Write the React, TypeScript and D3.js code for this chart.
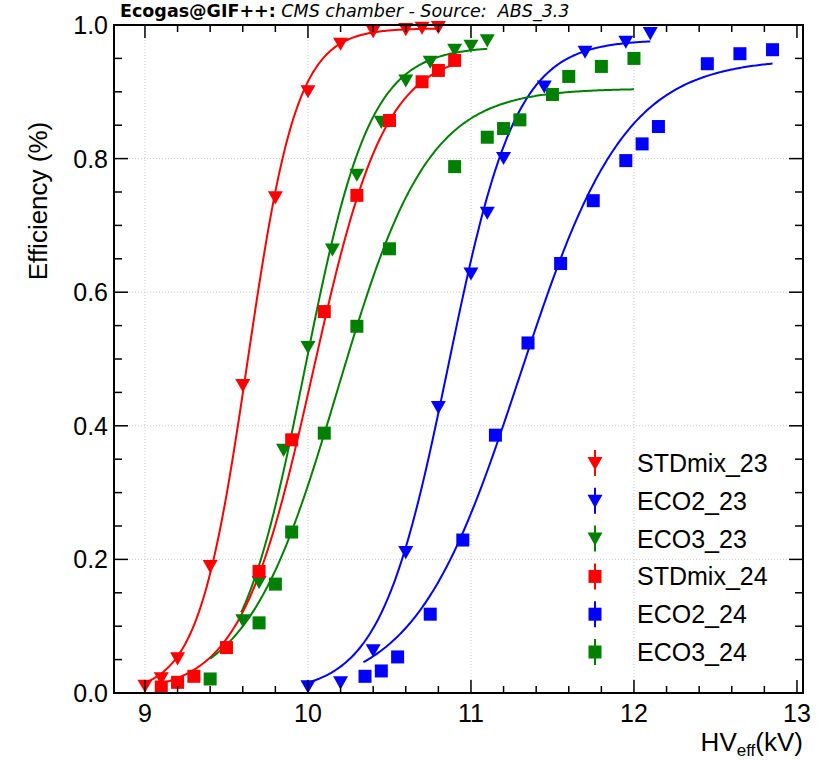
import React from "react";
import * as d3 from "d3";

// Legend / series info
const seriesNames = ["STDmix_23", "ECO2_23", "ECO3_23", "STDmix_24", "ECO2_24", "ECO3_24"];
const seriesColors = ["#ff0000", "#0000ff", "#008000", "#ff0000", "#0000ff", "#008000"];
const seriesMarkers = ["tri", "tri", "tri", "sq", "sq", "sq"];

// Measured points (HV_eff in kV, efficiency)
const stdmix23HV = [9.0, 9.1, 9.2, 9.4, 9.6, 9.8, 10.0, 10.2, 10.4, 10.6, 10.7, 10.8];
const stdmix23Eff = [0.011, 0.022, 0.052, 0.19, 0.461, 0.742, 0.901, 0.972, 0.991, 0.994, 0.996, 0.997];

const eco2_23HV = [10.0, 10.2, 10.4, 10.6, 10.8, 11.0, 11.1, 11.2, 11.45, 11.7, 11.95, 12.1];
const eco2_23Eff = [0.01, 0.016, 0.064, 0.211, 0.428, 0.628, 0.719, 0.801, 0.908, 0.96, 0.975, 0.988];

const eco3_23HV = [9.6, 9.7, 9.85, 10.0, 10.15, 10.3, 10.45, 10.6, 10.75, 10.9, 11.0, 11.1];
const eco3_23Eff = [0.109, 0.166, 0.364, 0.518, 0.664, 0.776, 0.855, 0.917, 0.945, 0.963, 0.969, 0.977];

const stdmix24HV = [9.1, 9.2, 9.3, 9.5, 9.7, 9.9, 10.1, 10.3, 10.5, 10.7, 10.8, 10.9];
const stdmix24Eff = [0.009, 0.016, 0.025, 0.068, 0.182, 0.379, 0.571, 0.745, 0.857, 0.915, 0.932, 0.947];

const eco2_24HV = [10.35, 10.45, 10.55, 10.75, 10.95, 11.15, 11.35, 11.55, 11.75, 11.95, 12.05, 12.15, 12.45, 12.65, 12.85];
const eco2_24Eff = [0.025, 0.033, 0.054, 0.118, 0.229, 0.386, 0.524, 0.643, 0.737, 0.797, 0.822, 0.848, 0.942, 0.957, 0.963];

const eco3_24HV = [9.4, 9.7, 9.8, 9.9, 10.1, 10.3, 10.5, 10.9, 11.1, 11.2, 11.3, 11.5, 11.6, 11.8, 12.0];
const eco3_24Eff = [0.021, 0.105, 0.163, 0.241, 0.389, 0.549, 0.665, 0.788, 0.832, 0.845, 0.858, 0.896, 0.923, 0.938, 0.95];

const allHV = [stdmix23HV, eco2_23HV, eco3_23HV, stdmix24HV, eco2_24HV, eco3_24HV];
const allEff = [stdmix23Eff, eco2_23Eff, eco3_23Eff, stdmix24Eff, eco2_24Eff, eco3_24Eff];

// Sigmoid fit parameters: eff = emax / (1 + exp(-lambda (HV - HV50)))
const fitEmax = [0.995, 0.978, 0.968, 0.96, 0.95, 0.905];
const fitLambda = [6.6, 4.8, 5.0, 4.5, 3.1, 3.6];
const fitHV50 = [9.63, 10.86, 9.98, 10.03, 11.3, 10.18];
const fitFrom = [9.0, 10.0, 9.59, 9.1, 10.34, 9.4];
const fitTo = [10.8, 12.1, 11.1, 10.9, 12.85, 12.0];

const xTicks = [9, 10, 11, 12, 13];
const yTicks = [0, 0.2, 0.4, 0.6, 0.8, 1.0];

const W = 834;
const H = 761;
const plot = { left: 114, right: 803, top: 25, bottom: 693 };

const x = d3.scaleLinear().domain([8.81, 13.037]).range([plot.left, plot.right]);
const y = d3.scaleLinear().domain([0, 1]).range([plot.bottom, plot.top]);

const helv = "'Liberation Sans', Arial, Helvetica, sans-serif";

function Marker({ kind, cx, cy, color }) {
  if (kind === "tri") {
    const s = 7.5;
    return (
      <path
        d={`M${cx - s},${cy - s * 0.8}L${cx + s},${cy - s * 0.8}L${cx},${cy + s * 0.95}Z`}
        fill={color}
      />
    );
  }
  const s = 6.5;
  return <rect x={cx - s} y={cy - s} width={2 * s} height={2 * s} fill={color} />;
}

export default function App() {
  const line = d3
    .line<number[]>()
    .x((d) => x(d[0]))
    .y((d) => y(d[1]));

  const fits = seriesNames.map((_, i) => {
    const pts = d3.range(fitFrom[i], fitTo[i] + 1e-9, 0.01).map((hv) => [
      hv,
      fitEmax[i] / (1 + Math.exp(-fitLambda[i] * (hv - fitHV50[i]))),
    ]);
    return line(pts);
  });

  const xMinor = d3.range(9, 13.001, 0.2).filter((v) => x(v) < plot.right - 1);
  const yMinor = d3.range(0, 1.0001, 0.05);

  const legendX = 595;
  const legendTextX = 637;
  const legendY0 = 463;
  const legendStep = 37.8;

  return (
    <svg
      width={W}
      height={H}
      style={{ position: "absolute", left: 0, top: 0, background: "#fff" }}
    >
      <rect x={0} y={0} width={W} height={H} fill="#fff" />

      {/* grid */}
      <g stroke="#c8c8c8" strokeWidth={1} strokeDasharray="1,2">
        {xTicks
          .filter((v) => v < 13)
          .map((v) => (
            <line key={"gx" + v} x1={x(v)} x2={x(v)} y1={plot.top} y2={plot.bottom} />
          ))}
        {yTicks
          .filter((v) => v > 0 && v < 1)
          .map((v) => (
            <line key={"gy" + v} x1={plot.left} x2={plot.right} y1={y(v)} y2={y(v)} />
          ))}
      </g>
      {/* legend background covering the grid */}
      <rect x={x(12) + 1} y={y(0.2) + 1} width={plot.right - x(12) - 3} height={plot.bottom - y(0.2) - 3} fill="#fff" />

      {/* fit curves */}
      {fits.map((d, i) => (
        <path key={"fit" + i} d={d || ""} fill="none" stroke={seriesColors[i]} strokeWidth={2} />
      ))}

      {/* points */}
      {allHV.map((hvs, i) =>
        hvs.map((hv, j) => (
          <Marker
            key={"m" + i + "_" + j}
            kind={seriesMarkers[i]}
            cx={x(hv)}
            cy={y(allEff[i][j])}
            color={seriesColors[i]}
          />
        ))
      )}

      {/* frame */}
      <rect
        x={plot.left}
        y={plot.top}
        width={plot.right - plot.left}
        height={plot.bottom - plot.top}
        fill="none"
        stroke="#000"
        strokeWidth={2}
      />

      {/* ticks */}
      <g stroke="#000" strokeWidth={1.5}>
        {xMinor.map((v) => {
          const major = Math.abs(v - Math.round(v)) < 1e-6;
          const len = major ? 13 : 7;
          return (
            <g key={"xt" + v}>
              <line x1={x(v)} x2={x(v)} y1={plot.bottom} y2={plot.bottom - len} />
              <line x1={x(v)} x2={x(v)} y1={plot.top} y2={plot.top + len} />
            </g>
          );
        })}
        {yMinor.map((v) => {
          const major = Math.abs(v * 5 - Math.round(v * 5)) < 1e-6;
          const len = major ? 14 : 8;
          return (
            <g key={"yt" + v}>
              <line x1={plot.left} x2={plot.left + len} y1={y(v)} y2={y(v)} />
              <line x1={plot.right} x2={plot.right - len} y1={y(v)} y2={y(v)} />
            </g>
          );
        })}
      </g>

      {/* tick labels */}
      <g fontFamily={helv} fontSize={25} fill="#000">
        {xTicks.map((v) => (
          <text key={"xl" + v} x={x(v)} y={722} textAnchor="middle">
            {v}
          </text>
        ))}
        {yTicks.map((v) => (
          <text key={"yl" + v} x={108} y={y(v) + 9} textAnchor="end">
            {v.toFixed(1)}
          </text>
        ))}
      </g>

      {/* axis titles */}
      <text
        fontFamily={helv}
        fontSize={26}
        transform={`translate(47,201) rotate(-90)`}
        textAnchor="middle"
      >
        Efficiency (%)
      </text>
      <text fontFamily={helv} fontSize={26} x={803} y={751} textAnchor="end">
        HV
        <tspan fontSize={17} dy={5}>
          eff
        </tspan>
        <tspan dy={-5}>(kV)</tspan>
      </text>

      {/* title */}
      <text
        fontFamily="'DejaVu Sans', sans-serif"
        fontSize={17.5}
        x={120}
        y={17}
        style={{ whiteSpace: "pre" }}
      >
        <tspan fontWeight="bold">Ecogas@GIF++:</tspan>
        <tspan fontStyle="italic">{" CMS chamber - Source:  ABS_3.3"}</tspan>
      </text>

      {/* legend */}
      {seriesNames.map((name, i) => {
        const cy = legendY0 + i * legendStep;
        return (
          <g key={"lg" + i}>
            <line x1={legendX} x2={legendX} y1={cy - 13} y2={cy + 13} stroke={seriesColors[i]} strokeWidth={2} />
            <Marker kind={seriesMarkers[i]} cx={legendX} cy={cy} color={seriesColors[i]} />
            <text x={legendTextX} y={cy + 9} fontFamily={helv} fontSize={25}>
              {name}
            </text>
          </g>
        );
      })}
    </svg>
  );
}
